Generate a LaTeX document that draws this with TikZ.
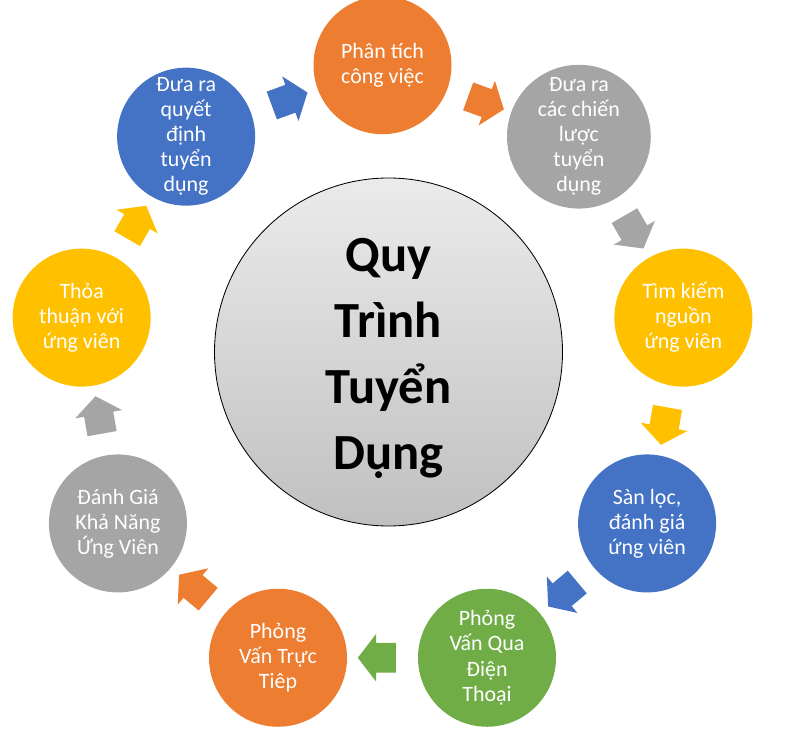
\documentclass[tikz,border=0pt]{standalone}
\usepackage{fontspec}
\setmainfont{Carlito}
\usetikzlibrary{shapes.arrows,calc}
\definecolor{offOrange}{HTML}{ED7D31}
\definecolor{offGray}{HTML}{A5A5A5}
\definecolor{offYellow}{HTML}{FFC000}
\definecolor{offBlue}{HTML}{4472C4}
\definecolor{offGreen}{HTML}{70AD47}
\definecolor{hubTop}{HTML}{EBEBEB}
\definecolor{hubBot}{HTML}{C0C0C0}

\begin{document}
\begin{tikzpicture}[scale=1.0,
  stagecirc/.style={circle, minimum size=3.45cm, inner sep=0pt, text=white, align=center, font=\fontsize{15.6}{17.8}\selectfont},
  blockarrow/.style={single arrow, draw=none, inner xsep=0pt, inner ysep=0.3625cm, minimum height=0.95cm, single arrow head extend=0.225cm, single arrow tip angle=105}]
  \useasboundingbox (0,0) rectangle (19.9,18.275);
  % draw the centre circle
  \node[circle, minimum size=8.7cm, draw=black, line width=0.6pt, top color=hubTop, bottom color=hubBot] (hub) at (9.7125,9.475) {};
  \node[align=center, font=\bfseries\fontsize{36}{47}\selectfont] (hub_txt) at ([yshift=-0.17cm]hub.center) {Quy\\Trình\\Tuyển\\Dụng};
  % draw stage circles
  \node[stagecirc, fill=offOrange] (stage_pt1) at (9.5625,16.645) {Phân tích\\công việc};
  \node[stagecirc, fill=offGray] (stage_pt2) at (14.472,14.858) {Đưa ra\\các chiến\\lược\\tuyển\\dụng};
  \node[stagecirc, fill=offYellow] (stage_pt3) at (17.084,10.334) {Tìm kiếm\\nguồn\\ứng viên};
  \node[stagecirc, fill=offBlue] (stage_pt4) at (16.177,5.189) {Sàn lọc,\\đánh giá\\ứng viên};
  \node[stagecirc, fill=offGreen] (stage_pt5) at (12.175,1.831) {Phỏng\\Vấn Qua\\Điện\\Thoại};
  \node[stagecirc, fill=offOrange] (stage_pt6) at (6.950,1.831) {Phỏng\\Vấn Trực\\Tiêp};
  \node[stagecirc, fill=offGray] (stage_pt7) at (2.948,5.189) {Đánh Giá\\Khả Năng\\Ứng Viên};
  \node[stagecirc, fill=offYellow] (stage_pt8) at (2.041,10.334) {Thỏa\\thuận với\\ứng viên};
  \node[stagecirc, fill=offBlue] (stage_pt9) at (4.653,14.858) {Đưa ra\\quyết\\định\\tuyển\\dụng};
  % draw block arrows between stages
  \node[blockarrow, fill=offBlue, rotate=20] (arrow_pt1) at ($(stage_pt9)!0.5!(stage_pt1)$) {};
  \node[blockarrow, fill=offOrange, rotate=-20] (arrow_pt2) at ($(stage_pt1)!0.5!(stage_pt2)$) {};
  \node[blockarrow, fill=offGray, rotate=-60] (arrow_pt3) at ($(stage_pt2)!0.5!(stage_pt3)$) {};
  \node[blockarrow, fill=offYellow, rotate=-100] (arrow_pt4) at ($(stage_pt3)!0.5!(stage_pt4)$) {};
  \node[blockarrow, fill=offBlue, rotate=-140] (arrow_pt5) at ($(stage_pt4)!0.5!(stage_pt5)$) {};
  \node[blockarrow, fill=offGreen, rotate=180] (arrow_pt6) at ($(stage_pt5)!0.5!(stage_pt6)$) {};
  \node[blockarrow, fill=offOrange, rotate=140] (arrow_pt7) at ($(stage_pt6)!0.5!(stage_pt7)$) {};
  \node[blockarrow, fill=offGray, rotate=100] (arrow_pt8) at ($(stage_pt7)!0.5!(stage_pt8)$) {};
  \node[blockarrow, fill=offYellow, rotate=60] (arrow_pt9) at ($(stage_pt8)!0.5!(stage_pt9)$) {};
\end{tikzpicture}
\end{document}
